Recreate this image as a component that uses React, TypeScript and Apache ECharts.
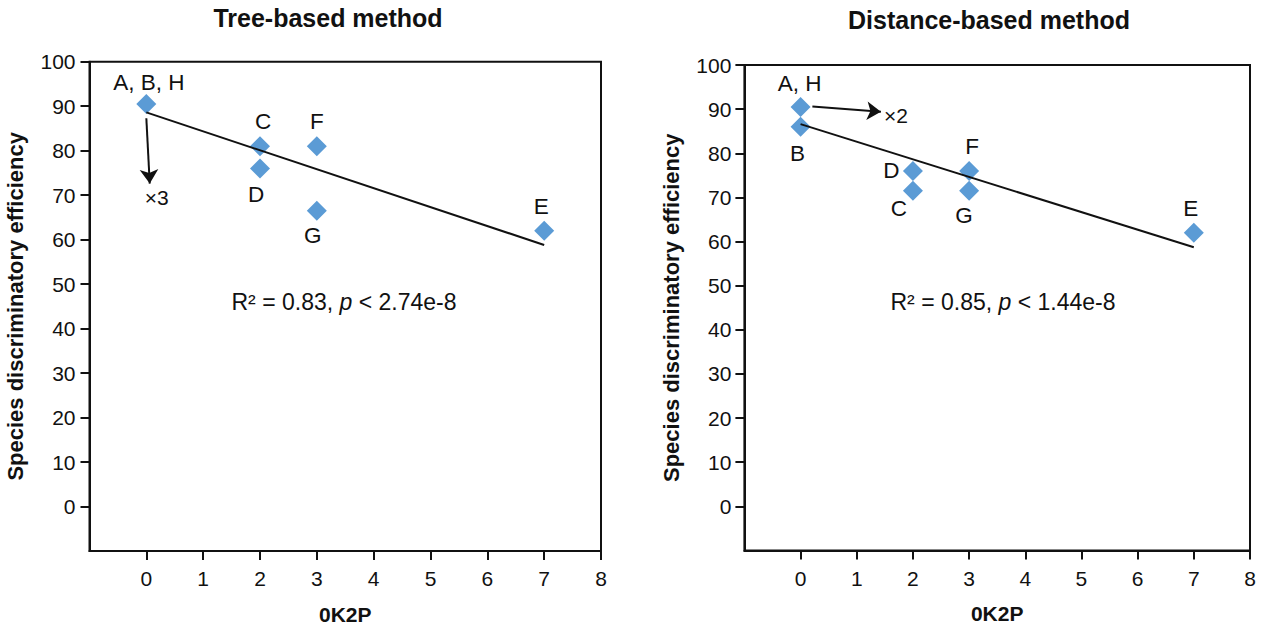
import React, { useEffect, useRef } from "react";
import * as echarts from "echarts";

// ---- data ----
const panelTitles = ["Tree-based method", "Distance-based method"];
const xAxisName = "0K2P";
const yAxisName = "Species discriminatory efficiency";
const xTicks = [0, 1, 2, 3, 4, 5, 6, 7, 8];
const yTicks = [0, 10, 20, 30, 40, 50, 60, 70, 80, 90, 100];

const treeLabels = ["A, B, H", "C", "D", "F", "G", "E"];
const treeK2P = [0, 2, 2, 3, 3, 7];
const treeEff = [90.5, 81, 76, 81, 66.5, 62];
const treeFitX = [0, 7];
const treeFitY = [88.6, 58.8];
const treeArrowFrom = [0, 87.3];
const treeArrowTo = [0.06, 72.6];
const treeMult = "×3";

const distLabels = ["A, H", "B", "D", "C", "F", "G", "E"];
const distK2P = [0, 0, 2, 2, 3, 3, 7];
const distEff = [90.5, 86, 76, 71.5, 76, 71.5, 62];
const distFitX = [0, 7];
const distFitY = [86.6, 58.7];
const distArrowFrom = [0.21, 90.6];
const distArrowTo = [1.43, 89.4];
const distMult = "×2";

const r2Values = ["0.83", "0.85"];
const pValues = ["2.74e-8", "1.44e-8"];

// ---- styles ----
const FONT = '"Liberation Sans", Arial, sans-serif';
const TEXT = "#111111";
const AXIS = "#111111";
const BLUE = "#5b9bd5";

const treeLabelStyle: Record<string, [string, number[]]> = {
  "A, B, H": ["top", [2.5, 5.5]],
  C: ["top", [3, 1.5]],
  D: ["bottom", [-4, 0]],
  F: ["top", [0, 1.5]],
  G: ["bottom", [-4, -1.5]],
  E: ["top", [-3, 2.5]],
};
const distLabelStyle: Record<string, [string, number[]]> = {
  "A, H": ["top", [-1, 3.5]],
  B: ["bottom", [-3, 0]],
  D: ["left", [1.5, 0]],
  C: ["bottom", [-14, -8.5]],
  F: ["top", [3, 2.5]],
  G: ["bottom", [-5, -1.5]],
  E: ["top", [-3, 2.5]],
};
const multOffsets = [
  [7, 14],
  [15, 4],
];

const grids = [
  { left: 89.5, top: 61.7, width: 511.5, height: 491.6 },
  { left: 744.4, top: 65, width: 505.6, height: 485.5 },
];

function makeXAxis(gridIndex: number) {
  return {
    gridIndex,
    type: "value",
    min: -1,
    max: 8,
    axisLine: { show: true, onZero: false, lineStyle: { color: AXIS, width: 2 } },
    axisTick: { show: true, length: 9, customValues: xTicks, lineStyle: { color: AXIS, width: 2 } },
    axisLabel: { customValues: xTicks, fontSize: 21, color: TEXT, fontFamily: FONT, margin: 17 },
    splitLine: { show: false },
    name: xAxisName,
    nameLocation: "middle",
    nameGap: gridIndex === 0 ? 53 : 52,
    nameTextStyle: { fontSize: 21, fontWeight: "bold", color: TEXT, fontFamily: FONT },
  };
}

function makeYAxis(gridIndex: number) {
  return {
    gridIndex,
    type: "value",
    min: -10,
    max: 100,
    axisLine: { show: true, onZero: false, lineStyle: { color: AXIS, width: 2 } },
    axisTick: { show: true, length: 9, customValues: yTicks, lineStyle: { color: AXIS, width: 2 } },
    axisLabel: { customValues: yTicks, fontSize: 21, color: TEXT, fontFamily: FONT, margin: gridIndex === 0 ? 14 : 13 },
    splitLine: { show: false },
    name: yAxisName,
    nameLocation: "middle",
    nameRotate: 90,
    nameGap: gridIndex === 0 ? 63 : 62,
    nameTextStyle: { fontSize: 22, fontWeight: "bold", color: TEXT, fontFamily: FONT },
  };
}

function makeScatter(
  idx: number,
  labels: string[],
  xs: number[],
  ys: number[],
  styleMap: Record<string, [string, number[]]>,
  arrowFrom: number[],
  arrowTo: number[],
  mult: string
) {
  return {
    type: "scatter",
    xAxisIndex: idx,
    yAxisIndex: idx,
    symbol: "diamond",
    symbolSize: 20,
    itemStyle: { color: BLUE, opacity: 1 },
    silent: true,
    z: 2,
    data: labels.map((name, i) => ({
      name,
      value: [xs[i], ys[i]],
      label: {
        show: true,
        formatter: name,
        position: styleMap[name][0],
        offset: styleMap[name][1],
        fontSize: 22.5,
        color: TEXT,
        fontFamily: FONT,
      },
    })),
    markLine: {
      silent: true,
      symbol: ["none", "arrow"],
      symbolSize: 14,
      lineStyle: { color: AXIS, width: 2, type: "solid" },
      label: { show: false },
      data: [[{ coord: arrowFrom }, { coord: arrowTo }]],
    },
    markPoint: {
      silent: true,
      symbol: "circle",
      symbolSize: 0,
      itemStyle: { color: "transparent" },
      label: {
        show: true,
        position: "inside",
        offset: multOffsets[idx],
        formatter: mult,
        fontSize: 21,
        color: TEXT,
        fontFamily: FONT,
      },
      data: [{ coord: arrowTo }],
    },
  };
}

function makeFit(idx: number, xs: number[], ys: number[]) {
  return {
    type: "line",
    xAxisIndex: idx,
    yAxisIndex: idx,
    showSymbol: false,
    symbol: "none",
    silent: true,
    z: 3,
    lineStyle: { color: AXIS, width: 2 },
    data: xs.map((x, i) => [x, ys[i]]),
  };
}

const titleCenters = [
  [328, 18],
  [989, 19.5],
];
const statCenters = [
  [344, 302],
  [1003, 302],
];

const option = {
  animation: false,
  backgroundColor: "#ffffff",
  grid: grids.map((g) => ({
    ...g,
    show: true,
    borderColor: AXIS,
    borderWidth: 2,
    backgroundColor: "transparent",
    containLabel: false,
  })),
  xAxis: [makeXAxis(0), makeXAxis(1)],
  yAxis: [makeYAxis(0), makeYAxis(1)],
  series: [
    makeScatter(0, treeLabels, treeK2P, treeEff, treeLabelStyle, treeArrowFrom, treeArrowTo, treeMult),
    makeFit(0, treeFitX, treeFitY),
    makeScatter(1, distLabels, distK2P, distEff, distLabelStyle, distArrowFrom, distArrowTo, distMult),
    makeFit(1, distFitX, distFitY),
  ],
  graphic: [
    ...panelTitles.map((t, i) => ({
      type: "text",
      x: titleCenters[i][0],
      y: titleCenters[i][1],
      silent: true,
      style: {
        text: t,
        fill: TEXT,
        font: `bold 25px ${FONT}`,
        textAlign: "center",
        textVerticalAlign: "middle",
      },
    })),
    ...r2Values.map((r, i) => ({
      type: "text",
      x: statCenters[i][0],
      y: statCenters[i][1],
      silent: true,
      style: {
        text: `R² = ${r}, {i|p} < ${pValues[i]}`,
        fill: TEXT,
        font: `23px ${FONT}`,
        textAlign: "center",
        textVerticalAlign: "middle",
        rich: {
          i: { fontStyle: "italic", fontSize: 23, fontFamily: FONT, fill: TEXT },
        },
      },
    })),
  ],
};

export default function App() {
  const ref = useRef<HTMLDivElement>(null);
  useEffect(() => {
    document.body.style.margin = "0";
    const chart = echarts.init(ref.current as HTMLDivElement, null, { renderer: "svg" });
    chart.setOption(option as any);
    return () => chart.dispose();
  }, []);
  return <div ref={ref} style={{ width: 1266, height: 630 }} />;
}
